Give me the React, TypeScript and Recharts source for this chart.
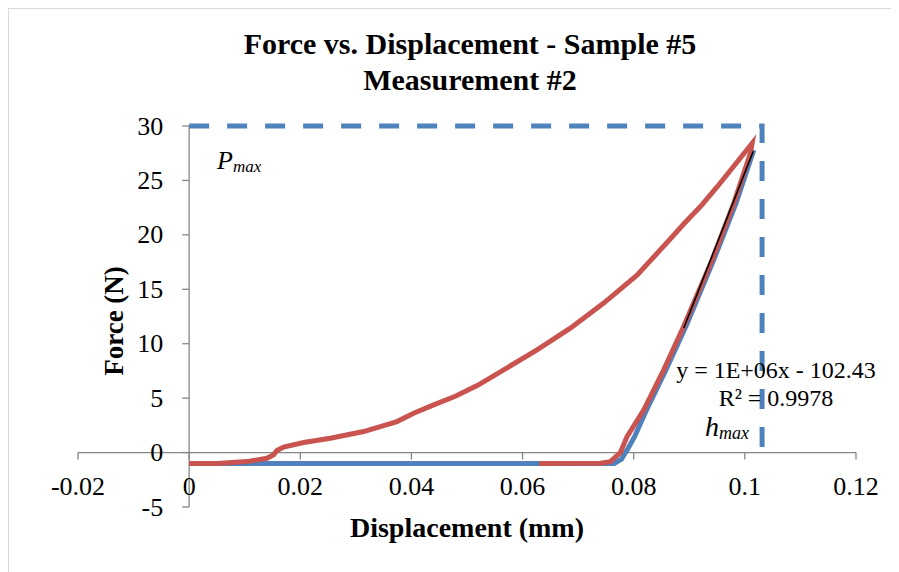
import React from "react";
import { LineChart, Line, XAxis, YAxis, ReferenceLine } from "recharts";

// loading curve (red)
const loadX = [0, 0.005, 0.0104, 0.014, 0.0152, 0.0158, 0.017, 0.0206, 0.0254, 0.0314, 0.0374, 0.0404, 0.044, 0.048, 0.052, 0.0566, 0.0626, 0.0686, 0.0746, 0.0806, 0.086, 0.089, 0.092, 0.095, 0.098, 0.1013];
const loadY = [-1, -1, -0.83, -0.52, -0.2, 0.2, 0.5, 0.92, 1.32, 1.93, 2.85, 3.62, 4.38, 5.2, 6.2, 7.6, 9.44, 11.43, 13.73, 16.3, 19.3, 21.0, 22.6, 24.4, 26.3, 28.4];
// unloading part of the same red series
const unloadX = [0.101, 0.098, 0.0941, 0.089, 0.0854, 0.0818, 0.0788, 0.0776, 0.0758, 0.074, 0.063];
const unloadY = [27.5, 22.9, 17.7, 11.6, 7.6, 3.9, 1.47, 0, -0.83, -0.97, -1];
// blue series
const blueX = [0, 0.0765, 0.0778, 0.079, 0.0802, 0.0822, 0.0858, 0.0894, 0.0944, 0.0984, 0.1016];
const blueY = [-1, -1, -0.6, 0.4, 1.5, 3.8, 7.6, 11.6, 17.7, 22.9, 27.8];
// linear trendline
const trendX = [0.089, 0.1015];
const trendY = [11.43, 27.67];
// Pmax / hmax guide
const guideX = [0, 0.1031, 0.1031];
const guideY = [30, 30, 0];

const xTicks = [-0.02, 0, 0.02, 0.04, 0.06, 0.08, 0.1, 0.12];
const yTicks = [-5, 0, 5, 10, 15, 20, 25, 30];

const pts = (xs: number[], ys: number[]) => xs.map((x, i) => ({ x, y: ys[i] }));
const redData = [...pts(loadX, loadY), ...pts(unloadX, unloadY)];
const blueData = pts(blueX, blueY);
const trendData = pts(trendX, trendY);
const guideData = pts(guideX, guideY);

const W = 891;
const H = 564;
const AXW = 20; // y axis box width
const AXH = 20; // x axis box height
const M = { top: 118, right: 43, bottom: 65 - AXH, left: 70 - AXW };
const plotLeft = 70;
const plotW = W - 70 - M.right;
const plotH = H - M.top - 65;
const zeroX = plotLeft + ((0 - -0.02) / 0.14) * plotW;
const zeroY = M.top + (30 / 35) * plotH;

const FONT = "'Liberation Serif', 'Times New Roman', serif";
const AXIS = "#868686";

const YTick = (p: any) => (
  <g>
    <line x1={zeroX - 7} x2={zeroX} y1={p.y} y2={p.y} stroke={AXIS} strokeWidth={1.3} />
    <text x={zeroX - 26} y={p.y} textAnchor="end" dominantBaseline="central" fontSize={26} fontFamily={FONT} fill="#000">
      {p.payload.value}
    </text>
  </g>
);

const XTick = (p: any) => (
  <g>
    <line x1={p.x} x2={p.x} y1={zeroY} y2={zeroY + 7} stroke={AXIS} strokeWidth={1.3} />
    <text x={p.x} y={zeroY + 34} textAnchor="middle" dominantBaseline="central" fontSize={26} fontFamily={FONT} fill="#000">
      {String(p.payload.value)}
    </text>
  </g>
);

export default function App() {
  return (
    <div style={{ position: "relative", width: W, height: H, fontFamily: FONT, background: "#fff" }}>
      <div style={{ position: "absolute", left: 0, top: 0, width: W, height: H, borderLeft: "1px solid #d9d9d9", borderTop: "1px solid #d9d9d9", boxSizing: "border-box" }} />
      <div style={{ position: "absolute", left: 0, width: 924, top: 18, textAlign: "center", fontWeight: "bold", fontSize: 30, lineHeight: "36px" }}>
        Force vs. Displacement - Sample #5
        <br />
        Measurement #2
      </div>
      <LineChart width={W} height={H} margin={M}>
        <XAxis dataKey="x" type="number" domain={[-0.02, 0.12]} ticks={xTicks} interval={0} height={AXH} axisLine={false} tickLine={false} tick={XTick} />
        <YAxis type="number" domain={[-5, 30]} ticks={yTicks} interval={0} width={AXW} axisLine={false} tickLine={false} tick={YTick} />
        <ReferenceLine x={0} stroke={AXIS} strokeWidth={1.3} />
        <ReferenceLine y={0} stroke={AXIS} strokeWidth={1.3} />
        <Line data={blueData} dataKey="y" type="linear" dot={false} stroke="#4F81BD" strokeWidth={5} isAnimationActive={false} />
        <Line data={redData} dataKey="y" type="linear" dot={false} stroke="#C9534F" strokeWidth={5} isAnimationActive={false} />
        <Line data={trendData} dataKey="y" type="linear" dot={false} stroke="#000" strokeWidth={1.5} isAnimationActive={false} />
        <Line data={guideData} dataKey="y" type="linear" dot={false} stroke="#4F81BD" strokeWidth={5} strokeDasharray="20 18" isAnimationActive={false} />
      </LineChart>
      <div style={{ position: "absolute", left: 209, top: 140, fontStyle: "italic", fontSize: 26, lineHeight: 1 }}>
        P<span style={{ fontSize: 17, verticalAlign: "-3px" }}>max</span>
      </div>
      <div style={{ position: "absolute", left: 618, width: 300, top: 350, textAlign: "center", fontSize: 24, lineHeight: 1 }}>
        y = 1E+06x - 102.43
      </div>
      <div style={{ position: "absolute", left: 618, width: 300, top: 378, textAlign: "center", fontSize: 24, lineHeight: 1 }}>
        R² = 0.9978
      </div>
      <div style={{ position: "absolute", left: 697, top: 405, fontStyle: "italic", fontSize: 28, lineHeight: 1 }}>
        h<span style={{ fontSize: 18, verticalAlign: "-3px" }}>max</span>
      </div>
      <div style={{ position: "absolute", left: 259, width: 400, top: 506, textAlign: "center", fontWeight: "bold", fontSize: 28, lineHeight: 1 }}>
        Displacement (mm)
      </div>
      <div style={{ position: "absolute", left: -44, width: 300, top: 299, height: 28, lineHeight: "28px", textAlign: "center", fontWeight: "bold", fontSize: 27, transform: "rotate(-90deg)" }}>
        Force (N)
      </div>
    </div>
  );
}
